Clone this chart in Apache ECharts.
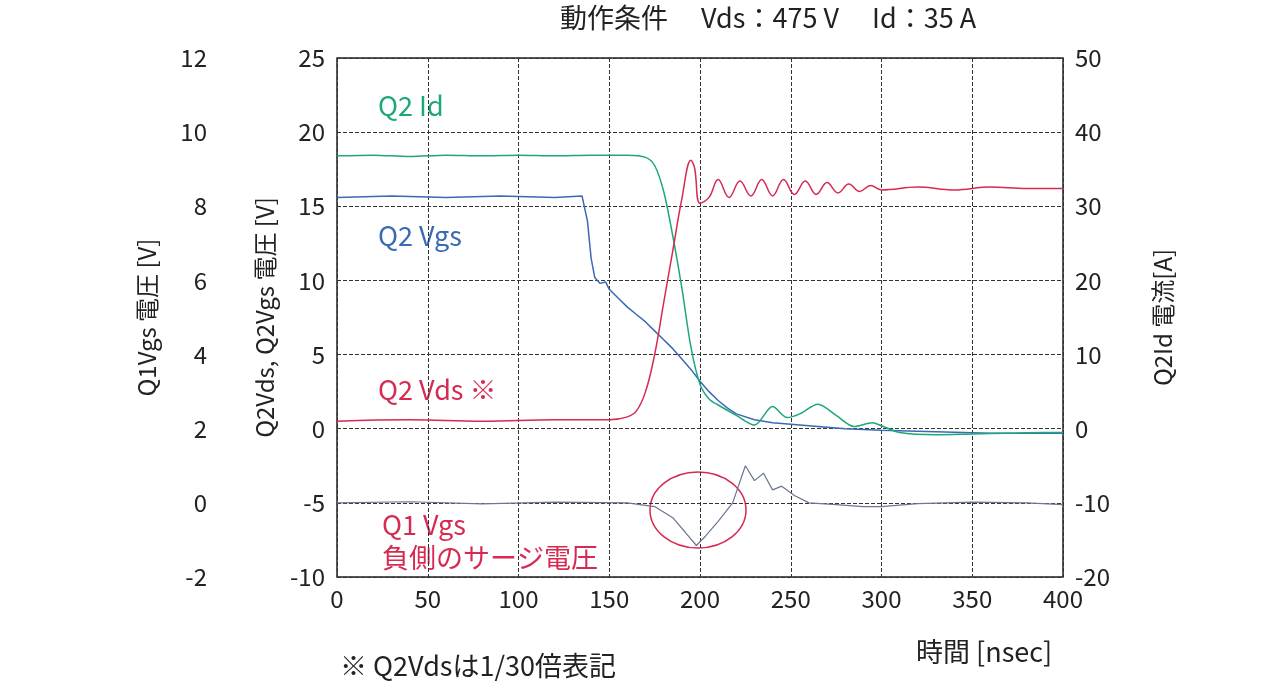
<!DOCTYPE html><html><head><meta charset="utf-8">
<script src="https://cdn.jsdelivr.net/npm/echarts@6/dist/echarts.min.js"></script>
<style>html,body{margin:0;background:#fff}#c{width:1284px;height:692px}</style></head><body><div id="c"></div>
<script>
const timeTicks=[0,50,100,150,200,250,300,350,400];
const q2Id=[[0,36.8],[20,36.9],[40,36.7],[60,36.9],[80,36.8],[100,36.9],[120,36.8],[140,36.9],[160,36.9],[170,36.6],[175,35.5],[180,32],[185,26],[190,19],[195,11],[200,6],[205,4],[210,3.2],[220,1.8],[230,0.5],[240,3],[248,1.5],[255,2],[265,3.3],[275,1.8],[285,0.3],[295,0.8],[300,0.4],[310,-0.5],[330,-0.8],[350,-0.7],[370,-0.6],[390,-0.5],[400,-0.5]];
const q2Vgs=[[0,15.6],[30,15.7],[60,15.6],[90,15.7],[120,15.6],[135,15.7],[138,14],[140,11.5],[142,10.2],[145,9.8],[148,9.9],[150,9.4],[155,8.8],[160,8.2],[165,7.7],[170,7.2],[175,6.6],[180,6],[185,5.4],[190,4.7],[195,4],[200,3.2],[205,2.5],[210,1.9],[215,1.4],[220,1],[230,0.6],[240,0.4],[260,0.2],[280,0],[300,-0.1],[330,-0.2],[360,-0.3],[400,-0.3]];
const q2Vds=[[0,0.5],[40,0.6],[80,0.5],[120,0.6],[150,0.6],[160,0.8],[165,1.2],[170,2.5],[175,5],[180,8.5],[185,12],[190,15.5],[195,18.1],[197,17.6],[200,15.2],[205,15.6],[210,16.8],[216,15.6],[222,16.7],[228,15.7],[234,16.8],[240,15.7],[246,16.8],[252,15.8],[258,16.7],[264,15.8],[270,16.6],[276,15.9],[282,16.5],[288,16],[294,16.4],[300,16.1],[320,16.3],[340,16.1],[360,16.3],[380,16.2],[400,16.2]];
const q1Vgs=[[0,0],[40,0.03],[80,-0.03],[120,0.02],[160,0],[175,-0.1],[185,-0.4],[192,-0.8],[198,-1.15],[203,-0.9],[210,-0.5],[218,0],[225,1.0],[230,0.6],[235,0.8],[240,0.35],[245,0.45],[252,0.2],[260,0],[275,-0.05],[290,-0.1],[300,-0.1],[320,-0.02],[350,0.02],[380,0],[400,-0.05]];
const F='"Noto Sans CJK JP","Noto Sans",sans-serif';
const ch=echarts.init(document.getElementById('c'));
const tl={fontSize:24,color:'#222',fontFamily:F};
const nm={fontSize:24,color:'#222',fontFamily:F};
const dash={show:true,lineStyle:{type:'dashed',color:'#333',width:1}};
ch.setOption({
 animation:false,
 grid:{left:337,right:221,top:58,bottom:115,show:true,borderColor:'#222',borderWidth:1.5},
 xAxis:{type:'value',min:0,max:400,interval:50,axisLabel:{...tl,margin:10},splitLine:dash,axisLine:{show:false},axisTick:{show:false}},
 yAxis:[
  {type:'value',min:-10,max:25,interval:5,position:'left',axisLabel:{...tl,margin:12},splitLine:dash,axisLine:{show:false},axisTick:{show:false},
   name:'Q2Vds, Q2Vgs 電圧 [V]',nameLocation:'middle',nameGap:60,nameRotate:90,nameTextStyle:nm},
  {type:'value',min:-2,max:12,interval:2,position:'left',offset:130,axisLabel:{...tl,margin:0},splitLine:{show:false},axisLine:{show:false},axisTick:{show:false},
   name:'Q1Vgs 電圧 [V]',nameLocation:'middle',nameGap:48,nameRotate:90,nameTextStyle:nm},
  {type:'value',min:-20,max:50,interval:10,position:'right',axisLabel:{...tl,margin:12},splitLine:{show:false},axisLine:{show:false},axisTick:{show:false},
   name:'Q2Id 電流[A]',nameLocation:'middle',nameGap:88,nameRotate:90,nameTextStyle:nm}
 ],
 series:[
  {type:'line',data:q1Vgs,yAxisIndex:1,symbol:'none',lineStyle:{color:'#6b7594',width:1.2}},
  {type:'line',data:q2Vgs,yAxisIndex:0,symbol:'none',lineStyle:{color:'#3a6ab4',width:1.5}},
  {type:'line',data:q2Id,yAxisIndex:2,symbol:'none',smooth:0.3,lineStyle:{color:'#1ea77a',width:1.5}},
  {type:'line',data:q2Vds,yAxisIndex:0,symbol:'none',smooth:0.4,lineStyle:{color:'#d62a52',width:1.5}}
 ],
 graphic:[
  {type:'text',left:560,top:4,style:{text:'動作条件　 Vds：475 V　 Id：35 A',fontSize:27,fill:'#222',fontFamily:F}},
  {type:'text',left:378,top:92,style:{text:'Q2 Id',fontSize:27,fill:'#1ea77a',fontFamily:F}},
  {type:'text',left:378,top:222,style:{text:'Q2 Vgs',fontSize:27,fill:'#3a6ab4',fontFamily:F}},
  {type:'text',left:378,top:376,style:{text:'Q2 Vds ※',fontSize:27,fill:'#d62a52',fontFamily:F}},
  {type:'text',left:382,top:508,style:{text:'Q1 Vgs\n負側のサージ電圧',fontSize:27,lineHeight:33,fill:'#d62a52',fontFamily:F}},
  {type:'ellipse',shape:{cx:698,cy:510,rx:48,ry:38},style:{fill:'none',stroke:'#d62a52',lineWidth:1.5}},
  {type:'text',left:916,top:638,style:{text:'時間 [nsec]',fontSize:27,fill:'#222',fontFamily:F}},
  {type:'text',left:340,top:652,style:{text:'※ Q2Vdsは1/30倍表記',fontSize:27,fill:'#222',fontFamily:F}}
 ]
});
</script></body></html>
